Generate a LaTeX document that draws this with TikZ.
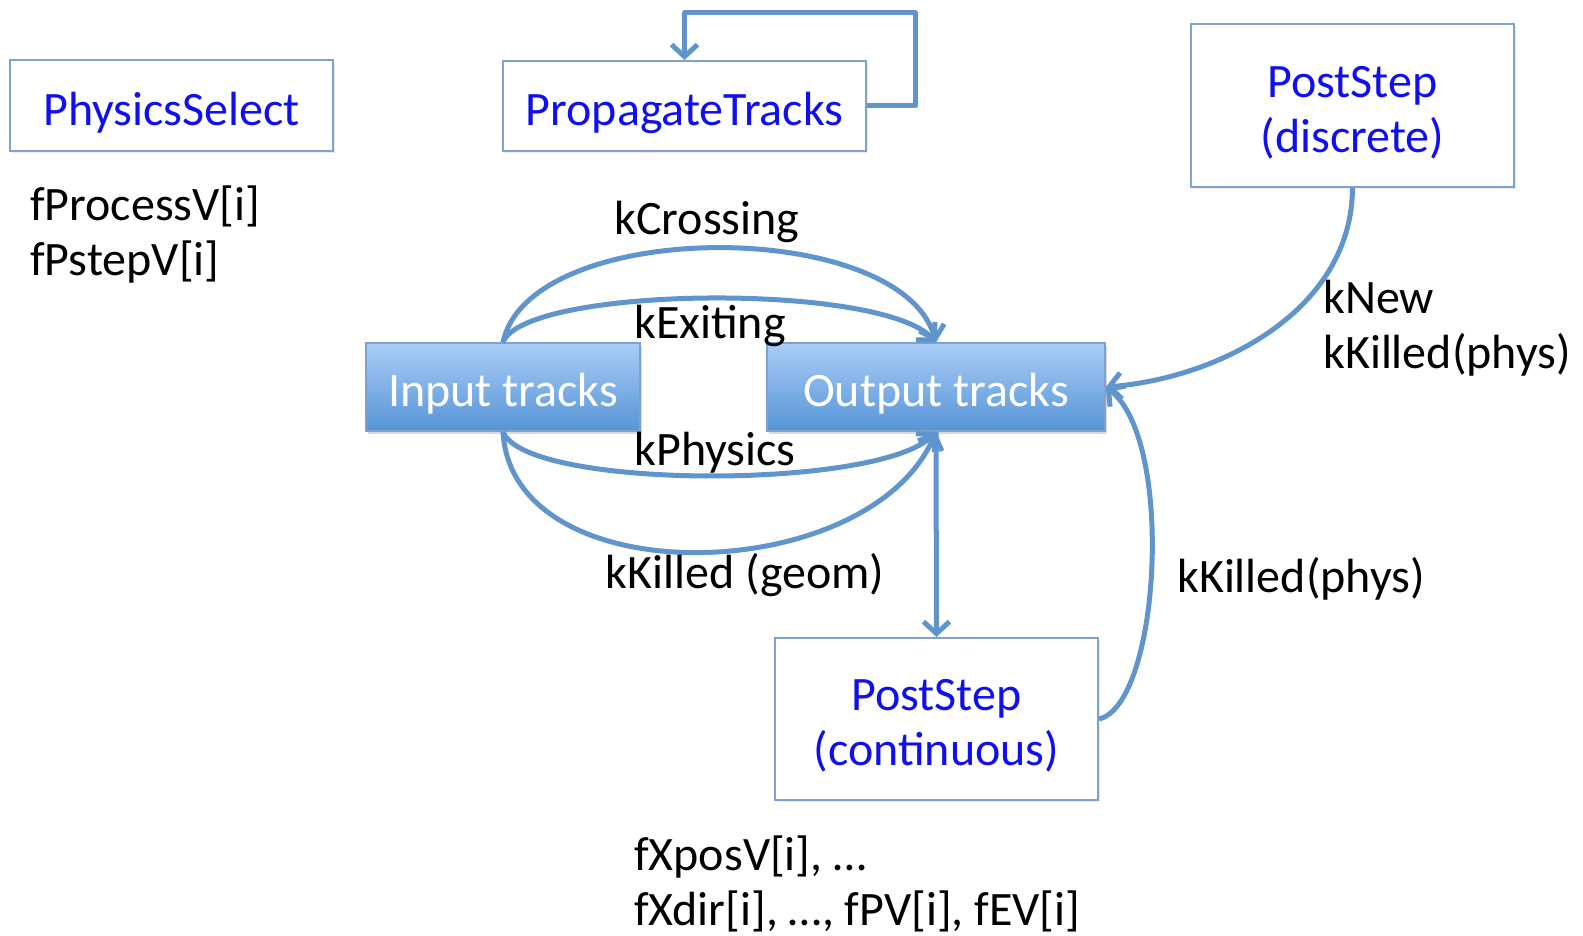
\documentclass[tikz,border=0pt]{standalone}
\usepackage{fontspec}
\setmainfont{Carlito}
\usetikzlibrary{arrows.meta,shadows}
\definecolor{arrowblue}{RGB}{96,148,204}
\definecolor{boxline}{RGB}{125,162,210}
\definecolor{labelblue}{RGB}{15,15,240}
\definecolor{filltop}{RGB}{170,205,247}
\definecolor{fillbot}{RGB}{86,148,214}
\newcommand\dnshift[1]{\raisebox{-7pt}[\height][\depth]{#1}}
\tikzset{
  plainbox/.style={draw=boxline, line width=2pt, fill=white, inner sep=0pt,
    text=labelblue, align=center,
    drop shadow={shadow xshift=2pt, shadow yshift=-2pt, opacity=0.15}},
  trackbox/.style={draw=boxline, line width=1.5pt, inner sep=0pt, text=white,
    top color=filltop, bottom color=fillbot,
    drop shadow={shadow xshift=2pt, shadow yshift=-3pt, opacity=0.3}},
  conn/.style={draw=arrowblue, line width=5pt, line join=round,
    -{Straight Barb[length=12pt,width=26pt,line width=5pt]}},
  lbl/.style={inner sep=0pt, text=black},
}
\begin{document}
\begin{tikzpicture}[x=1pt,y=-1pt]
\fontsize{48}{55}\selectfont
\useasboundingbox (0,0) rectangle (1583,936);

% boxes
\node[plainbox, minimum width=323pt, minimum height=91pt] (phys) at (171.5,105.5) {\dnshift{PhysicsSelect}};
\node[plainbox, minimum width=363pt, minimum height=90pt] (prop) at (684.5,106) {\dnshift{PropagateTracks}};
\node[plainbox, minimum width=323pt, minimum height=163pt] (disc) at (1352.5,105.5) {\dnshift{PostStep}\\\dnshift{(discrete)}};
\node[plainbox, minimum width=323pt, minimum height=162pt] (cont) at (936.5,719) {\dnshift{PostStep}\\\dnshift{(continuous)}};
\node[trackbox, minimum width=274pt, minimum height=88pt] (in) at (503,387) {\dnshift{Input tracks}};
\node[trackbox, minimum width=338pt, minimum height=88pt] (out) at (936,387) {\dnshift{Output tracks}};

% loop on PropagateTracks
\coordinate (loopTR) at (915,13);
\draw[conn] (prop.east) -| (loopTR) -| (prop.north);

% arcs between input and output
\draw[conn] (in.north) .. controls (530,217) and (900,217) .. (out.north);
\draw[conn] (in.north) .. controls (525,286) and (880,282) .. (out.north);
\draw[conn] (in.south) .. controls (525,490) and (880,490) .. (out.south);
\draw[conn] (in.south) .. controls (512,597) and (870,587) .. (out.south);

% vertical output -> continuous
\draw[conn] (out.south) -- (cont.north);

% continuous -> output
\draw[conn] (cont.east) .. controls (1160,705) and (1175,440) .. (out.east);
% discrete -> output
\draw[conn] (disc.south) .. controls (1352,310) and (1220,378) .. (out.east);

% labels
\node[lbl] (lcross) at (707,222) {kCrossing};
\node[lbl] (lexit) at (710,326) {kExiting};
\node[lbl] (lphys) at (715,453) {kPhysics};
\node[lbl] (lgeom) at (745,575) {kKilled (geom)};
\node[lbl] (lkphys) at (1301,579) {kKilled(phys)};
\node[lbl, anchor=west, align=left] (lnew) at (1323,328) {kNew\\kKilled(phys)};
\node[lbl, anchor=west, align=left] (lfproc) at (30,235) {fProcessV[i]\\fPstepV[i]};
\node[lbl, anchor=west, align=left] (lfx) at (634,884) {fXposV[i], …\\fXdir[i], …, fPV[i], fEV[i]};
\end{tikzpicture}
\end{document}
